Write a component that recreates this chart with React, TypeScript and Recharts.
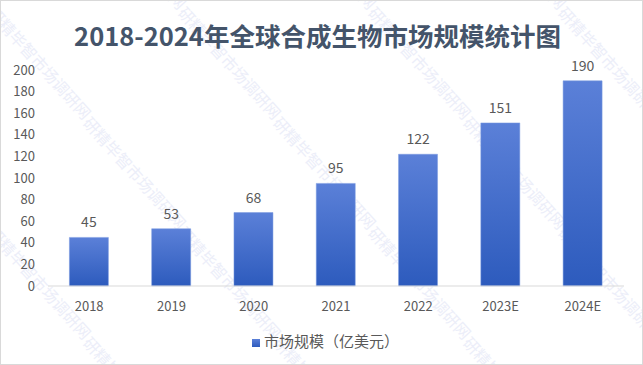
import * as React from "react";
import { BarChart, Bar, XAxis, YAxis, Legend, LabelList } from "recharts";

// ----- Data -----
const years = ["2018", "2019", "2020", "2021", "2022", "2023E", "2024E"];
const marketSize = [45, 53, 68, 95, 122, 151, 190];
const yTicks = [0, 20, 40, 60, 80, 100, 120, 140, 160, 180, 200];

const chartData = years.map((year, i) => ({ year, value: marketSize[i] }));

const FONT = "'Noto Sans CJK SC', 'Open Sans', sans-serif";
const TEXT = "#595959";

// faint diagonal watermark in the background
function Watermark() {
  const items: { x: number; y: number }[] = [];
  for (let r = -2; r < 5; r++) {
    for (let c = -1; c < 5; c++) {
      items.push({ x: c * 190 + (r % 2) * 95, y: r * 110 });
    }
  }
  return (
    <div style={{ position: "absolute", inset: 0, overflow: "hidden", pointerEvents: "none" }}>
      {items.map((p, i) => (
        <div
          key={i}
          style={{
            position: "absolute",
            left: p.x,
            top: p.y,
            transform: "rotate(48deg)",
            transformOrigin: "left top",
            fontFamily: FONT,
            fontSize: 16,
            color: "#eceef9",
            whiteSpace: "nowrap",
          }}
        >
          研精毕智市场调研网
        </div>
      ))}
    </div>
  );
}

export default function App() {
  return (
    <div
      style={{
        position: "absolute",
        left: 0,
        top: 0,
        width: 643,
        height: 365,
        background: "#fff",
        border: "1px solid #d9d9d9",
        boxSizing: "border-box",
        overflow: "hidden",
      }}
    >
      <Watermark />
      <div
        style={{
          position: "absolute",
          left: -5,
          top: 15,
          width: 643,
          textAlign: "center",
          fontFamily: FONT,
          fontWeight: 700,
          fontSize: 25.5,
          lineHeight: "38px",
          color: "#44546a",
        }}
      >
        2018-2024年全球合成生物市场规模统计图
      </div>
      <div style={{ position: "absolute", left: -1, top: -1 }}>
        <BarChart
          width={643}
          height={365}
          data={chartData}
          margin={{ top: 70, right: 19, left: 0, bottom: 28 }}
          barCategoryGap="26%"
        >
          <defs>
            <linearGradient id="barFill" x1="0" y1="0" x2="0" y2="1">
              <stop offset="0%" stopColor="#5b80d8" />
              <stop offset="100%" stopColor="#2d5bbd" />
            </linearGradient>
          </defs>
          <XAxis
            dataKey="year"
            tickLine={false}
            axisLine={{ stroke: "#d9d9d9" }}
            tickMargin={10}
            tick={{ fill: TEXT, fontSize: 13, fontFamily: FONT }}
          />
          <YAxis
            width={48}
            domain={[0, 200]}
            ticks={yTicks}
            interval={0}
            axisLine={false}
            tickLine={false}
            tickMargin={7}
            tick={{ fill: TEXT, fontSize: 13, fontFamily: FONT }}
          />
          <Legend
            verticalAlign="bottom"
            iconType="square"
            iconSize={8}
            wrapperStyle={{ bottom: 14, left: 9, width: 643, fontFamily: FONT, fontSize: 15 }}
            formatter={(v) => <span style={{ color: TEXT }}>{v}</span>}
          />
          <Bar
            dataKey="value"
            name="市场规模（亿美元）"
            fill="url(#barFill)"
            stroke="#7b9be0"
            strokeWidth={0.5}
            legendType="square"
            isAnimationActive={false}
          >
            <LabelList
              dataKey="value"
              position="top"
              offset={10}
              fill={TEXT}
              fontSize={14}
              fontFamily={FONT}
            />
          </Bar>
        </BarChart>
      </div>
    </div>
  );
}
